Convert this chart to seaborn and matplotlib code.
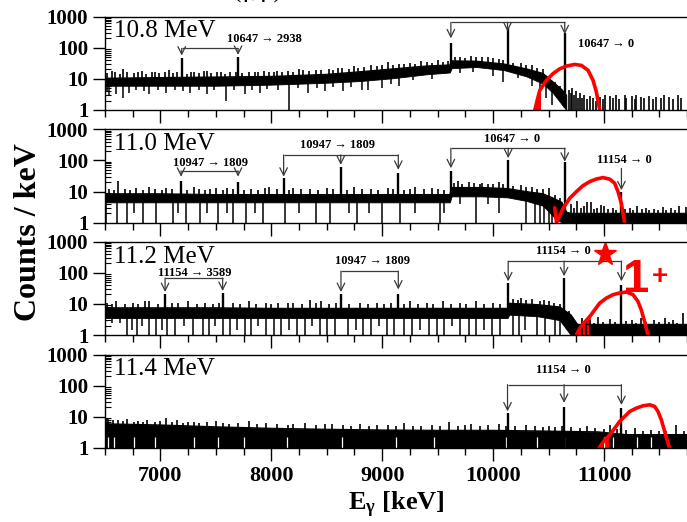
import numpy as np
import matplotlib
matplotlib.use("Agg")
import matplotlib.pyplot as plt
import seaborn as sns
from matplotlib.ticker import MultipleLocator, LogLocator, FixedLocator, NullFormatter

# ---------------- data ----------------
panel_names = ["10.8 MeV", "11.0 MeV", "11.2 MeV", "11.4 MeV"]
x_ticks = [7000, 8000, 9000, 10000, 11000]
y_ticks = [1, 10, 100, 1000]

# background band: energies, upper and lower envelope (counts/keV)
bg_e1 = [6500, 7000, 7500, 8000, 8500, 8800, 9100, 9400, 9610, 9625, 9850, 10100, 10300, 10450, 10540, 10620, 10660]
bg_hi1 = [10.5, 11, 11.5, 12, 14, 17, 21, 26, 28, 38, 37, 30, 21, 15, 8, 4.5, 3]
bg_lo1 = [6, 6, 6, 6.5, 7.5, 8.5, 10.5, 14, 16, 22, 24, 19, 12, 7, 3.5, 1.5, 1]

bg_e2 = [6500, 7000, 7500, 8000, 8500, 9000, 9500, 9610, 9625, 9900, 10130, 10300, 10450, 10550, 10620, 10660, 10700, 11750]
bg_hi2 = [8.5, 8.5, 8, 8, 8, 8, 8, 8, 13.5, 13.5, 12.5, 10, 8.5, 6, 4.5, 2.2, 2, 2]
bg_lo2 = [4.5, 4.5, 4.5, 4.5, 4.5, 4.5, 4.5, 4.5, 7, 7, 6.5, 5, 3.5, 1.5, 1, 1, 1, 1]

bg_e3 = [6500, 7000, 7500, 8000, 8500, 9000, 9500, 10000, 10130, 10145, 10400, 10600, 10700, 10760, 11750]
bg_hi3 = [7.5, 7.5, 7.5, 7.2, 7.2, 7.2, 7.2, 7.2, 7.2, 10.5, 9.5, 8, 4.5, 2.2, 2.2]
bg_lo3 = [3.5, 3.5, 3.5, 3.5, 3.5, 3.5, 3.5, 3.5, 3.5, 4.5, 4, 3, 1, 1, 1]

bg_e4 = [6500, 7000, 7500, 8000, 8500, 9000, 9500, 10000, 10500, 10950, 11200, 11750]
bg_hi4 = [6, 5.5, 4.8, 4.3, 4, 3.8, 3.7, 3.7, 3.5, 3.3, 2.7, 2.7]
bg_lo4 = [1, 1, 1, 1, 1, 1, 1, 1, 1, 1, 1, 1]

# single-bin spikes above the band: (energy, counts)
spikes1 = [(6520, 15), (6560, 18), (6590, 16), (6640, 14), (6660, 21), (6700, 16), (6760, 15), (6800, 16), (6830, 18),
           (6870, 14), (6920, 16), (6950, 17), (6990, 15), (7040, 17), (7080, 19), (7110, 15), (7150, 16), (7240, 14),
           (7280, 17), (7300, 16), (7350, 15), (7390, 18), (7420, 18), (7460, 15), (7510, 16), (7550, 17), (7580, 14),
           (7630, 17), (7680, 16), (7740, 15), (7800, 17), (7850, 16), (7880, 16), (7930, 18), (7980, 16), (8020, 17),
           (8050, 18), (8100, 16), (8150, 18), (8200, 17), (8250, 20), (8290, 19), (8340, 18), (8400, 19), (8450, 19),
           (8520, 20), (8560, 19), (8600, 22), (8640, 22), (8700, 21), (8750, 25), (8780, 23), (8840, 24), (8900, 28),
           (8950, 26), (9000, 27), (9050, 34), (9100, 28), (9150, 29), (9200, 30), (9250, 32), (9300, 31), (9350, 38),
           (9400, 35), (9450, 33), (9500, 40), (9550, 36), (9590, 37),
           (9660, 50), (9700, 52), (9750, 48), (9800, 55), (9850, 50), (9900, 49), (9950, 50), (10000, 46), (10050, 42),
           (10090, 40), (10180, 33), (10250, 32), (10300, 28), (10350, 27), (10400, 22), (10450, 20), (10500, 12),
           (10560, 8), (10600, 6),
           (10680, 4.5), (10700, 3.5), (10715, 5), (10730, 3), (10750, 4), (10765, 2.5), (10780, 3.5), (10800, 2.5),
           (10820, 3), (10845, 2.2), (10870, 2.8), (10900, 2.5), (10930, 2), (10960, 2.6), (10990, 2.2), (11010, 3),
           (11050, 2.8), (11080, 2.4), (11110, 3), (11135, 2.2), (11185, 3), (11200, 2.4), (11250, 2.8), (11275, 2.3),
           (11290, 3), (11335, 2.6), (11365, 2.5), (11410, 2.8), (11440, 2.2), (11470, 2.7), (11515, 2.4), (11545, 3),
           (11590, 2.6), (11620, 2.2), (11667, 3), (11690, 2.5)]
spikes2 = [(6540, 12), (6580, 11), (6620, 22), (6680, 12), (6730, 11), (6780, 13), (6840, 11), (6900, 14), (6950, 12),
           (7010, 11), (7050, 13), (7100, 12), (7240, 11), (7300, 14), (7350, 12), (7400, 11), (7450, 12), (7500, 13),
           (7560, 11), (7600, 13), (7650, 12), (7750, 11), (7820, 12), (7880, 11), (7940, 13), (7980, 14), (8050, 12),
           (8160, 11), (8200, 13), (8270, 12), (8350, 12), (8420, 11), (8500, 13), (8560, 12), (8680, 11), (8750, 14),
           (8820, 12), (8900, 12), (8960, 11), (9050, 13), (9100, 12), (9200, 11), (9250, 12), (9300, 14), (9380, 12),
           (9450, 13), (9500, 12), (9560, 11),
           (9650, 19), (9680, 22), (9720, 18), (9780, 20), (9830, 19), (9880, 18), (9900, 19), (9950, 17), (10000, 18),
           (10050, 20), (10090, 17), (10180, 15), (10250, 16), (10300, 14), (10350, 14), (10400, 12), (10450, 12),
           (10500, 13), (10560, 8), (10600, 6),
           (10700, 4), (10730, 3), (10760, 5), (10790, 3), (10820, 3.5), (10850, 4.5), (10880, 4.5), (10910, 2.8),
           (10940, 3), (10970, 3.6), (11000, 3.5), (11040, 2.8), (11080, 3), (11110, 2.6), (11150, 4), (11190, 2.8),
           (11230, 3), (11260, 2.6), (11300, 3.5), (11340, 2.7), (11380, 3), (11410, 2.6), (11450, 2.8), (11490, 2.5),
           (11530, 3.2), (11560, 2.6), (11600, 3), (11640, 2.6), (11680, 3.5), (11740, 3.2)]
spikes3 = [(6520, 11), (6560, 10), (6600, 12), (6680, 10), (6750, 11), (6800, 10), (6860, 12), (6900, 12), (6980, 10),
           (7100, 10.5), (7160, 11), (7250, 12), (7330, 10), (7400, 11), (7470, 10), (7530, 11), (7650, 10.5),
           (7720, 10), (7800, 12), (7860, 10), (7950, 11), (8000, 10), (8060, 11), (8150, 10.5), (8200, 11), (8280, 10),
           (8350, 13), (8400, 11), (8450, 12), (8520, 10), (8580, 11), (8700, 10), (8800, 11), (8870, 10), (8950, 11),
           (9020, 10), (9080, 11), (9200, 10), (9250, 12), (9320, 10), (9400, 11), (9460, 10), (9550, 12), (9620, 10),
           (9700, 11), (9760, 10), (9850, 12), (9920, 10), (10000, 11), (10060, 10),
           (10180, 14), (10220, 13), (10250, 15), (10300, 13), (10350, 14), (10420, 12), (10460, 13), (10500, 12),
           (10550, 11), (10600, 10), (10680, 6),
           (10800, 3.5), (10840, 2.6), (10870, 3), (10910, 2.5), (10950, 3.8), (10990, 2.6), (11050, 3.2), (11100, 2.6),
           (11200, 2.8), (11250, 3), (11290, 2.5), (11330, 3.5), (11380, 2.6), (11450, 3), (11500, 2.6), (11550, 3.5),
           (11590, 2.6), (11620, 3), (11660, 2.5), (11708, 5)]
spikes4 = [(6510, 9), (6530, 9.5), (6570, 8), (6620, 8), (6660, 7.5), (6700, 8.5), (6760, 7), (6800, 7.5), (6840, 7),
           (6880, 8), (6950, 7), (7000, 7.5), (7050, 9.5), (7100, 7), (7150, 8), (7200, 6.5), (7250, 7), (7300, 7),
           (7350, 6.5), (7420, 7), (7500, 7.5), (7560, 6.5), (7620, 6), (7700, 6.5), (7800, 7.5), (7870, 6),
           (7950, 6.5), (8050, 6), (8150, 5.5), (8200, 6), (8300, 6.5), (8400, 5.5), (8480, 6), (8550, 6), (8650, 5.5),
           (8720, 5.2), (8800, 6), (8880, 5.2), (8950, 5.5), (9050, 5.5), (9120, 5), (9200, 6.5), (9280, 5.2),
           (9350, 5), (9450, 5.5), (9520, 5), (9600, 7), (9680, 5), (9750, 5.5), (9800, 6), (9880, 5), (9950, 5.5),
           (10050, 6), (10120, 5), (10200, 5), (10300, 5.5), (10380, 5), (10450, 4.8), (10500, 5), (10560, 4.6),
           (10620, 5), (10700, 4.6), (10780, 4.5), (10850, 5), (10920, 4.4), (11000, 4), (11050, 5.5), (11120, 4),
           (11200, 3.8), (11280, 4.5), (11350, 3.6), (11420, 3.8), (11500, 3.5), (11560, 3.6), (11650, 5.5),
           (11720, 3.5)]

# bins dropping below the band: (energy, counts)
drops1 = [(6520, 4), (6540, 3), (6600, 3.2), (6665, 2.5), (6720, 3.4), (6780, 4.5), (6850, 4), (6900, 3.2),
          (6980, 4.5), (7050, 3.5), (7130, 4.5), (7200, 4), (7270, 3.5), (7350, 4.5), (7420, 3.2), (7480, 4.5),
          (7590, 2), (7660, 4.5), (7760, 3.3), (7830, 4.5), (7900, 3.5), (7960, 4.8), (8060, 4.5), (8160, 1),
          (8240, 5), (8330, 3.6), (8410, 5), (8480, 4), (8560, 5.5), (8650, 4), (8720, 5.5), (8820, 4.5), (8870, 4.3),
          (9000, 5), (9080, 7), (9150, 6), (9280, 9), (9450, 10), (9700, 15), (9820, 17), (10000, 12), (10090, 8),
          (10220, 11), (10350, 6), (10420, 4), (10480, 2.5), (10530, 1.5)]
drops2 = [(6510, 1), (6605, 1), (6695, 1), (6760, 2), (6845, 1), (6960, 1), (7115, 1), (7160, 2), (7230, 1),
          (7355, 1), (7420, 2), (7520, 1), (7600, 2), (7655, 1), (7775, 1), (7850, 2), (7925, 1), (8120, 1),
          (8250, 2), (8405, 1), (8525, 1), (8700, 2), (8770, 1), (8880, 2), (9000, 1), (9160, 1), (9300, 2),
          (9520, 1), (9560, 2), (9700, 4), (9850, 1), (9950, 4), (10050, 2), (10300, 1), (10380, 1), (10420, 1),
          (10460, 1), (10500, 1), (10530, 1)]
drops3 = [(6560, 2.4), (6640, 2.4), (6700, 1), (6740, 1.5), (6790, 1), (6830, 2), (6900, 1), (6960, 1), (7010, 1.5),
          (7060, 1), (7130, 1), (7210, 2), (7290, 1), (7380, 1), (7440, 1), (7490, 2), (7560, 1), (7630, 1),
          (7690, 1.5), (7760, 1), (7820, 1), (7880, 2), (7950, 1), (8020, 1), (8090, 1), (8160, 1.5), (8230, 1),
          (8300, 1), (8370, 2), (8440, 1), (8500, 1), (8570, 1), (8690, 1), (8760, 1.5), (8830, 1), (8900, 1),
          (8970, 2), (9040, 1), (9110, 1), (9200, 1), (9270, 1), (9340, 1.5), (9420, 1), (9490, 1), (9560, 1),
          (9630, 2), (9700, 1), (9780, 1), (9850, 1), (9920, 1.5), (9990, 1), (10060, 1), (10180, 1), (10230, 1),
          (10290, 1.5), (10400, 1), (10470, 1), (10560, 1), (10600, 1)]
gap_e4 = [6530, 6580, 6760, 6950, 7300, 7520, 7750, 8140, 8640, 9120, 9470, 10120, 10400, 10640, 11000, 11080, 11300, 11420]

# photopeaks
pk_e1 = [7192, 7700, 9619, 10130, 10646]
pk_h1 = [45, 49, 140, 420, 300]
pk_e2 = [7186, 7700, 8111, 8626, 9145, 9619, 10136, 10646, 11157]
pk_h2 = [22, 21, 27, 63, 39, 44, 104, 91, 10]
pk_e3 = [7042, 7561, 8628, 9145, 10136, 10640, 11157]
pk_h3 = [20, 22, 20, 20, 47, 68, 41]
pk_e4 = [10130, 10640, 11157]
pk_h4 = [13, 21, 19]

# simulated response (red)
red_e1 = [10376, 10405, 10421, 10481, 10541, 10601, 10661, 10736, 10796, 10856, 10901, 10931, 10961]
red_c1 = [1, 2.6, 4.3, 9, 14.8, 21, 25.7, 29, 27, 18.8, 9, 3.8, 1]
red_e2 = [10556, 10572, 10631, 10691, 10751, 10811, 10871, 10932, 10991, 11051, 11096, 11126, 11156, 11186]
red_c2 = [3, 1, 2.9, 6.1, 9.9, 15.5, 20.8, 25.3, 28, 25, 18.5, 10, 4.2, 1]
red_e3 = [10751, 10781, 10826, 10871, 10916, 10961, 11022, 11081, 11141, 11202, 11262, 11306, 11336, 11366, 11396]
red_c3 = [1, 1.65, 2.6, 3.9, 6.4, 10.6, 15.4, 19.7, 22.4, 24, 19.7, 12, 6.4, 2.7, 1]
red_e4 = [10955, 11006, 11051, 11096, 11141, 11186, 11231, 11292, 11352, 11412, 11457, 11487, 11517, 11547, 11577, 11592]
red_c4 = [1, 1.8, 2.6, 4.3, 7.1, 10.2, 14.8, 19.1, 22.6, 24.4, 21.5, 14.8, 8, 3.4, 1.4, 1]
red_fill = [3, 0, 4, 3]

# transition labels: (arrow energies, bracket level, arrow tips, text, text x, text y, alignment)
ann1 = [([7192, 7700], 95, [56, 59], "10647 → 2938", 7600, 190, "left"),
        ([9619, 10130, 10646], 650, [200, 330, 270], "10647 → 0", 10763, 135, "left")]
ann2 = [([7186, 7700], 46, [30, 30], "10947 → 1809", 7448, 85, "center"),
        ([8111, 8626, 9145], 150, [30, 72, 50], "10947 → 1809", 8600, 316, "center"),
        ([9619, 10136, 10646], 246, [56, 118, 91], "10647 → 0", 10168, 490, "center"),
        ([11157], 55, [11], "11154 → 0", 11186, 104, "center")]
ann3 = [([7042, 7561], 68, [24, 26], "11154 → 3589", 7306, 99, "center"),
        ([8628, 9145], 112, [24, 29], "10947 → 1809", 8910, 236, "center"),
        ([10136, 10640, 11157], 236, [53, 77, 53], "11154 → 0", 10637, 500, "center")]
ann4 = [([10130, 10640, 11157], 108, [15, 28, 24], "11154 → 0", 10637, 310, "center")]

# ---------------- style ----------------
sns.set_theme(style="ticks", rc={
    "axes.edgecolor": "black", "text.color": "black", "xtick.color": "black",
    "ytick.color": "black", "axes.linewidth": 1.0, "axes.facecolor": "white"})
plt.rcParams["font.family"] = ["Liberation Serif", "DejaVu Serif"]
plt.rcParams["mathtext.fontset"] = "custom"
plt.rcParams["mathtext.rm"] = "Liberation Serif:bold"
plt.rcParams["mathtext.it"] = "Liberation Serif:bold"
plt.rcParams["mathtext.bf"] = "Liberation Serif:bold"

fig = plt.figure(figsize=(6.87, 5.22), dpi=100)
bottoms = [0.7893, 0.5734, 0.3582, 0.1418]
axes = [fig.add_axes([0.1528, b, 0.8515, 0.179]) for b in bottoms]

bgs = [(bg_e1, bg_hi1, bg_lo1), (bg_e2, bg_hi2, bg_lo2), (bg_e3, bg_hi3, bg_lo3), (bg_e4, bg_hi4, bg_lo4)]
spks = [spikes1, spikes2, spikes3, spikes4]
drops = [drops1, drops2, drops3, []]
pks = [(pk_e1, pk_h1), (pk_e2, pk_h2), (pk_e3, pk_h3), (pk_e4, pk_h4)]
reds = [(red_e1, red_c1), (red_e2, red_c2), (red_e3, red_c3), (red_e4, red_c4)]
anns = [ann1, ann2, ann3, ann4]
bcol = "#3a3a3a"

for k, ax in enumerate(axes):
    ax.set_yscale("log")
    ax.set_xlim(6500, 11775)
    ax.set_ylim(1, 1000)
    e, hi, lo = bgs[k]
    ax.fill_between(e, lo, hi, color="black", lw=0.6, edgecolor="black")
    sns.lineplot(x=e, y=hi, ax=ax, color="black", lw=0.8, estimator=None, sort=False)
    # drops below band
    if drops[k]:
        de, dl = zip(*drops[k])
        ax.vlines(de, dl, np.interp(de, e, hi), color="black", lw=1.1)
    # spikes above band
    se, sh = zip(*spks[k])
    ax.vlines(se, np.interp(se, e, lo), sh, color="black", lw=1.2)
    if k == 3:
        ax.vlines(gap_e4, 1, 2.3, color="white", lw=0.9)
    # peaks
    pe, ph = pks[k]
    ax.vlines(pe, np.interp(pe, e, lo), ph, color="black", lw=1.7)
    # red response
    re_, rc = reds[k]
    sns.lineplot(x=re_, y=rc, ax=ax, color="red", lw=2.6, estimator=None, sort=False)
    if red_fill[k]:
        n = red_fill[k]
        ax.fill_between(re_[:n], 1, rc[:n], color="red", lw=1)
    # annotations
    for arr_e, lvl, tips, txt, tx, ty, ha in anns[k]:
        if len(arr_e) > 1:
            ax.hlines(lvl, min(arr_e), max(arr_e), color=bcol, lw=0.9)
        for ae, tp in zip(arr_e, tips):
            ax.annotate("", xy=(ae, tp), xytext=(ae, lvl),
                        arrowprops=dict(arrowstyle="->,head_length=0.6,head_width=0.3",
                                        color=bcol, lw=0.9, shrinkA=0, shrinkB=0, mutation_scale=9))
        ax.text(tx, ty, txt, ha=ha, va="center", fontsize=9, fontweight="bold",
                family=["Liberation Serif", "DejaVu Serif"])
    ax.text(0.015, 0.84, panel_names[k], transform=ax.transAxes, fontsize=18, va="center", ha="left")

    # ticks
    ax.xaxis.set_major_locator(FixedLocator(x_ticks))
    ax.xaxis.set_minor_locator(MultipleLocator(250))
    ax.yaxis.set_major_locator(FixedLocator(y_ticks))
    ax.yaxis.set_minor_locator(LogLocator(base=10, subs=np.arange(2, 10)))
    ax.yaxis.set_minor_formatter(NullFormatter())
    ax.set_yticklabels([str(v) for v in y_ticks], fontsize=15, fontweight="bold")
    ax.tick_params(axis="x", which="major", direction="out", length=9, width=1.0, top=False,
                   labelbottom=(k == 3), labelsize=16, pad=4)
    ax.tick_params(axis="x", which="minor", direction="out", length=5, width=1.0, top=False)
    ax.tick_params(axis="y", which="major", direction="out", length=9, width=1.0, right=False, pad=3)
    ax.tick_params(axis="y", which="minor", direction="in", length=4, width=0.8, right=False)
    if k == 3:
        for lab in ax.get_xticklabels():
            lab.set_fontweight("bold")
    ax.set_xlabel("")
    ax.set_ylabel("")
    ax.spines["right"].set_visible(False)

# star and spin label in the 11.2 MeV panel
axes[2].plot([11006], [409], marker="*", ms=17, color="red", mec="red")
axes[2].text(11170, 60, "1", color="red", fontsize=34, fontweight="bold", family="Liberation Sans",
             ha="left", va="center")
axes[2].text(11505, 72, "+", color="red", fontsize=20, fontweight="bold", family="Liberation Sans",
             ha="center", va="center")

fig.text(0.041, 0.556, "Counts / keV", rotation=90, fontsize=23, fontweight="bold", ha="center", va="center")
fig.text(0.577, 0.023, r"E$_{\mathrm{γ}}$ [keV]", fontsize=19, fontweight="bold", ha="center", va="baseline")
fig.text(0.375, 0.994, "(γ,γ')", fontsize=18, ha="center", va="bottom")

fig.savefig("out.png", dpi=100)
